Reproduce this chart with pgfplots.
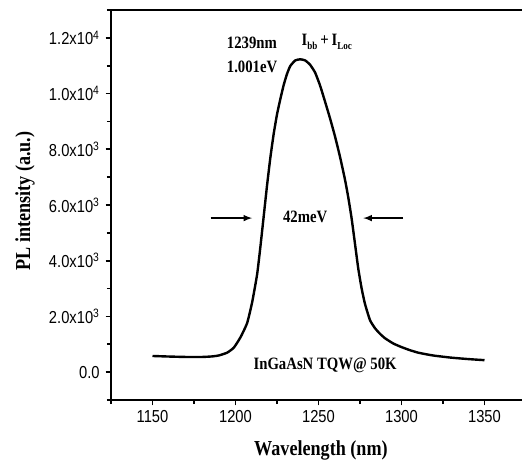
\documentclass[border=0pt]{standalone}
\usepackage{fontspec}
\setmainfont[FakeStretch=0.85]{Liberation Serif}
\newfontfamily\tickfont[FakeStretch=0.85]{Liberation Sans}
\usepackage{pgfplots}
\pgfplotsset{compat=1.18}
\begin{document}
\begin{tikzpicture}
\begin{axis}[
  name=ax,
  at={(0,0)}, anchor=south west,
  scale only axis,
  width=311.25pt, height=292.5pt,
  xmin=1125, xmax=1375, ymin=-1000, ymax=13000,
  axis line style={line width=2pt},
  tick align=outside,
  xtick pos=bottom, ytick pos=left,
  xtick={1150,1200,1250,1300,1350},
  minor xtick={1125,1175,1225,1275,1325,1375},
  ytick={0,2000,4000,6000,8000,10000,12000},
  yticklabels={0.0,2.0x10\textsuperscript{3},4.0x10\textsuperscript{3},6.0x10\textsuperscript{3},8.0x10\textsuperscript{3},1.0x10\textsuperscript{4},1.2x10\textsuperscript{4}},
  minor ytick={-1000,1000,3000,5000,7000,9000,11000,13000},
  major tick length=4pt, minor tick length=3pt,
  every tick/.style={black, line width=1.3pt},
  scaled ticks=false,
  /pgf/number format/assume math mode=true,
  xticklabel style={font=\tickfont\fontsize{13}{15}\selectfont, /pgf/number format/set thousands separator={}},
  yticklabel style={font=\tickfont\fontsize{13}{15}\selectfont, xshift=-1pt},
  xlabel={Wavelength (nm)},
  ylabel={PL intensity (a.u.)},
  xlabel style={font=\bfseries\fontsize{16}{18}\selectfont, at={(axis description cs:0.506,0)}, anchor=center, yshift=-38pt},
  ylabel style={font=\bfseries\fontsize{16}{18}\selectfont, at={(axis description cs:-0.2072,0.51)}, anchor=center},
  clip=false,
]
\addplot[black, line width=1.8pt, line join=round, smooth, tension=0.3] coordinates {
(1150,580) (1160,560) (1170,545) (1180,545) (1186,565) (1190,600) (1195,700)
(1199,880) (1203,1250) (1207,1760) (1210,2500) (1213,3500) (1215,4500)
(1217,5600) (1219,6700) (1221,7700) (1223,8550) (1225,9250) (1227,9800)
(1229,10300) (1231,10700) (1233,10990) (1236,11190) (1239,11230) (1242,11190)
(1245,11030) (1248,10750) (1251,10280) (1254,9700) (1257,9100) (1260,8450)
(1263,7720) (1266,6900) (1268,6250) (1270,5500) (1272,4600) (1274,3700)
(1276,3000) (1278,2450) (1281,1870) (1284,1580) (1287,1380) (1290,1220)
(1295,1030) (1300,900) (1305,790) (1310,700) (1315,640) (1320,590)
(1330,520) (1340,470) (1350,430)
};
\node[anchor=west, font=\bfseries\fontsize{13}{15}\selectfont] at (axis cs:1192,11810) {1239nm};
\node[anchor=west, font=\bfseries\fontsize{13}{15}\selectfont] at (axis cs:1192,10950) {1.001eV};
\node[anchor=west, font=\bfseries\fontsize{13}{15}\selectfont] at (axis cs:1237,11850) {I\raisebox{-3pt}{\fontsize{8}{9}\selectfont bb}\,+\,I\raisebox{-3pt}{\fontsize{8}{9}\selectfont Loc}};
\node[font=\bfseries\fontsize{13}{15}\selectfont] at (axis cs:1242,5565) {42meV};
\node[font=\bfseries\fontsize{13}{15}\selectfont] at (axis cs:1254,250) {InGaAsN TQW@ 50K};
\draw[-latex, line width=1.2pt] (axis cs:1185,5530) -- (axis cs:1210,5530);
\draw[-latex, line width=1.2pt] (axis cs:1301,5530) -- (axis cs:1277,5530);
\end{axis}
\pgfresetboundingbox
\useasboundingbox (-83.25pt,-51.2pt) rectangle (308.25pt,300pt);
\end{tikzpicture}
\end{document}
